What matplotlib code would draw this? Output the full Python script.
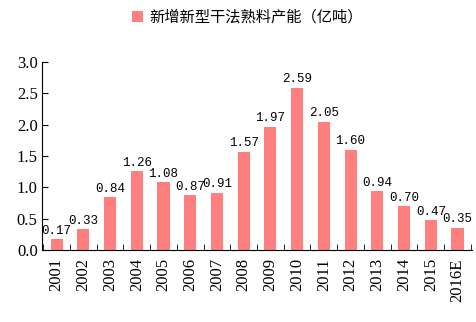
import matplotlib.pyplot as plt
import numpy as np

years = ['2001', '2002', '2003', '2004', '2005', '2006', '2007', '2008',
         '2009', '2010', '2011', '2012', '2013', '2014', '2015', '2016E']
capacity = [0.17, 0.33, 0.84, 1.26, 1.08, 0.87, 0.91, 1.57,
            1.97, 2.59, 2.05, 1.60, 0.94, 0.70, 0.47, 0.35]
yticks = [0.0, 0.5, 1.0, 1.5, 2.0, 2.5, 3.0]

plt.rcParams['font.family'] = ['Noto Sans CJK SC', 'DejaVu Sans']

fig = plt.figure(figsize=(4.76, 3.22), dpi=100)
ax = fig.add_axes([0.088, 0.224, 0.904, 0.583])

x = np.arange(len(years))
bars = ax.bar(x, capacity, width=0.45, color='#FF7F7F', label='新增新型干法熟料产能（亿吨）')

for xi, v in zip(x, capacity):
    ax.text(xi, v + 0.04, f'{v:.2f}', ha='center', va='bottom', fontsize=9,
            family=['Liberation Mono', 'DejaVu Sans'])

ax.set_xlim(-0.55, len(years) - 0.45)
ax.set_ylim(0, 3.0)
ax.set_yticks(yticks)
ax.set_yticklabels([f'{t:.1f}' for t in yticks], family='Liberation Serif', fontsize=12)
ax.set_xticks(x)
ax.set_xticklabels(years, rotation=90, family='Liberation Serif', fontsize=12)
ax.set_xticks(np.arange(-0.5, len(years)), minor=True)
ax.tick_params(axis='x', which='major', length=0, pad=6)
ax.tick_params(axis='x', which='minor', direction='in', length=4)
ax.tick_params(axis='y', direction='in', length=4, pad=3)

for s in ['top', 'right']:
    ax.spines[s].set_visible(False)

fig.legend(loc='upper center', bbox_to_anchor=(0.52, 1.015), frameon=False, fontsize=11,
           handlelength=0.7, handleheight=0.7, handletextpad=0.4)

fig.savefig('out.png', dpi=100)
